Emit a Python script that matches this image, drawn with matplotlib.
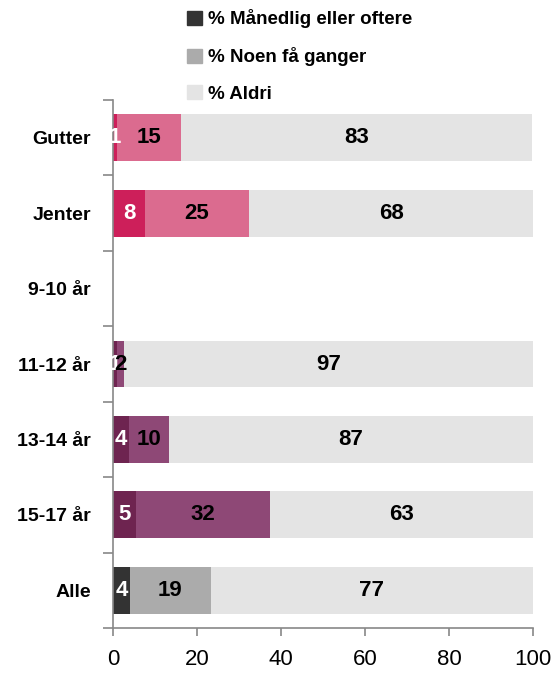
import matplotlib
matplotlib.use("Agg")
import matplotlib.pyplot as plt
from matplotlib.patches import Patch

FAM = ['Liberation Sans', 'DejaVu Sans']
plt.rcParams['font.family'] = FAM

categories = ["Gutter", "Jenter", "9-10 år", "11-12 år", "13-14 år", "15-17 år", "Alle"]
manedlig = [0.9, 7.6, None, 0.9, 3.8, 5.4, 4.0]
noen = [15.4, 24.8, None, 1.8, 9.6, 32.0, 19.3]
aldri = [83.4, 67.6, None, 97.3, 86.6, 62.6, 76.7]
series_names = ["% Månedlig eller oftere", "% Noen få ganger", "% Aldri"]
xticks = [0, 20, 40, 60, 80, 100]

dark_cols = ["#CD1F5A", "#CD1F5A", "#6E2450", "#6E2450", "#6E2450", "#6E2450", "#333333"]
mid_cols = ["#DB6B8F", "#DB6B8F", "#8E4876", "#8E4876", "#8E4876", "#8E4876", "#ABABAB"]
light_col = "#E4E4E4"

fig = plt.figure(figsize=(5.55, 6.73), dpi=100)
ax = fig.add_axes([113/555, 1-628/673, 420/555, 528/673])

ypos = list(range(len(categories)))
bh = 0.62
lab_kw = dict(ha="center", va="center", fontsize=16, fontweight="bold")
for i, y in enumerate(ypos):
    if manedlig[i] is None:
        continue
    a, b, c = manedlig[i], noen[i], aldri[i]
    ax.barh(y, a, height=bh, color=dark_cols[i], linewidth=0)
    ax.barh(y, b, left=a, height=bh, color=mid_cols[i], linewidth=0)
    ax.barh(y, c, left=a + b, height=bh, color=light_col, linewidth=0)
    ax.text(a/2, y, f"{a:.0f}", color="white", **lab_kw)
    ax.text(a + b/2, y, f"{b:.0f}", color="black", **lab_kw)
    ax.text(a + b + c/2, y, f"{c:.0f}", color="black", **lab_kw)

ax.set_xlim(0, 100)
ax.set_ylim(len(categories) - 0.5, -0.5)
ax.set_xticks(xticks)
ax.set_xticklabels([str(t) for t in xticks], fontsize=16)
ax.set_yticks([y + 0.5 for y in [-1] + ypos])
ax.set_yticklabels([])
ax.set_yticks(ypos, minor=True)
ax.set_yticklabels(categories, minor=True, fontsize=14, fontweight="bold")
ax.tick_params(axis="y", which="minor", length=0, pad=16)
ax.tick_params(axis="y", which="major", length=7, color="#888888", width=1.2)
ax.tick_params(axis="x", length=6, color="#888888", width=1.2, pad=9)
for s in ["top", "right"]:
    ax.spines[s].set_visible(False)
for s in ["left", "bottom"]:
    ax.spines[s].set_color("#888888")
    ax.spines[s].set_linewidth(1.2)

handles = [Patch(color=c) for c in ["#333333", "#ABABAB", light_col]]
fig.legend(handles, series_names, loc="upper left", bbox_to_anchor=(170/555, 1.011),
           frameon=False, prop={"family": FAM, "weight": "bold", "size": 13.5},
           handlelength=0.8, handleheight=0.8, handletextpad=0.3, labelspacing=1.0)

fig.savefig("out.png", dpi=100)
